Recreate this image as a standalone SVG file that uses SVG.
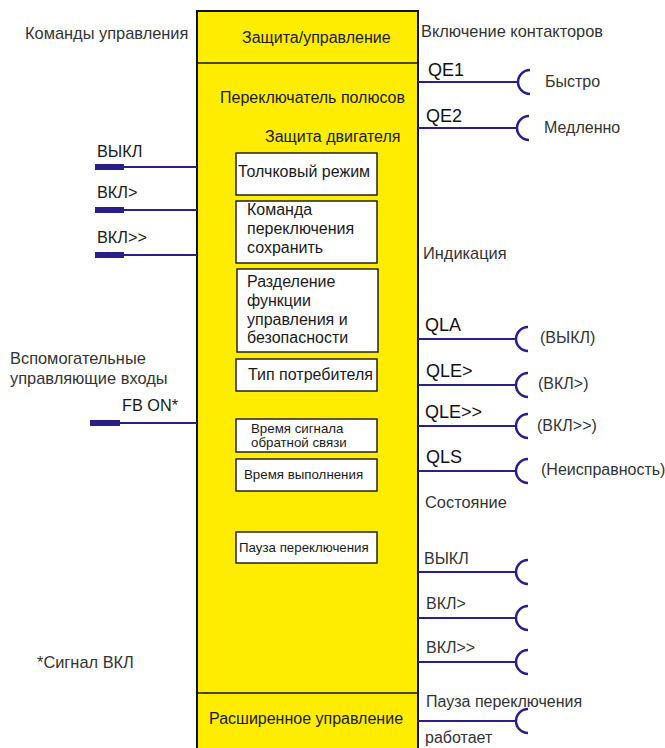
<svg xmlns="http://www.w3.org/2000/svg" width="665" height="748" viewBox="0 0 665 748">
  <style>
    text { font-family: "Liberation Sans", Arial, sans-serif; }
    .lbl { font-size: 16.4px; fill: #333333; }
    .par { font-size: 16px; fill: #333333; }
    .in { font-size: 16px; fill: #1a1a1a; }
    .pin { font-size: 16.3px; fill: #1a1a1a; }
    .sig { font-size: 18px; fill: #111111; }
    .sm { font-size: 13.3px; fill: #1a1a1a; }
    .box { fill: #ffffff; stroke: #222222; stroke-width: 1.5; }
    .wire { stroke: #2a1f8a; stroke-width: 2; fill: none; }
    .plug { stroke: #2a1f8a; stroke-width: 6; }
    .sock { stroke: #2a1f8a; stroke-width: 2.5; fill: none; }
  </style>
  <defs>
    <path id="socket" class="sock" d="M12,-12 A12,12 0 0 0 12,12"/>
  </defs>

  <rect width="665" height="748" fill="#ffffff"/>

  <!-- function block -->
  <g id="block">
    <rect x="197" y="11" width="221" height="745" fill="#ffed00" stroke="#111111" stroke-width="2"/>
    <line x1="197" y1="63" x2="418" y2="63" stroke="#111111" stroke-width="1.5"/>
    <line x1="197" y1="693" x2="418" y2="693" stroke="#111111" stroke-width="1.5"/>
    <text class="in" x="242" y="43">Защита/управление</text>
    <text class="in" x="220" y="103">Переключатель полюсов</text>
    <text class="in" x="265" y="142">Защита двигателя</text>
    <text class="in" x="209" y="724">Расширенное управление</text>
  </g>

  <g id="jog">
    <rect class="box" x="236" y="153" width="141" height="42"/>
    <text class="in" x="238" y="177">Толчковый режим</text>
  </g>
  <g id="save-cmd">
    <rect class="box" x="236" y="201" width="141" height="62"/>
    <text class="in" x="247" y="215">Команда</text>
    <text class="in" x="247" y="234">переключения</text>
    <text class="in" x="247" y="253">сохранить</text>
  </g>
  <g id="separation">
    <rect class="box" x="237" y="269" width="141" height="83"/>
    <text class="in" x="247" y="287">Разделение</text>
    <text class="in" x="247" y="306">функции</text>
    <text class="in" x="247" y="325">управления и</text>
    <text class="in" x="247" y="343">безопасности</text>
  </g>
  <g id="load-type">
    <rect class="box" x="236" y="359" width="141" height="32"/>
    <text class="in" x="248" y="380">Тип потребителя</text>
  </g>
  <g id="feedback-time">
    <rect class="box" x="236" y="419" width="141" height="33"/>
    <text class="sm" x="251" y="433">Время сигнала</text>
    <text class="sm" x="251" y="447">обратной связи</text>
  </g>
  <g id="run-time">
    <rect class="box" x="236" y="459" width="141" height="32"/>
    <text class="sm" x="244" y="479">Время выполнения</text>
  </g>
  <g id="change-pause">
    <rect class="box" x="236" y="532" width="141" height="31"/>
    <text class="sm" x="239" y="552">Пауза переключения</text>
  </g>

  <!-- left-side labels -->
  <g id="left-labels">
    <text class="lbl" x="25" y="39">Команды управления</text>
    <text class="lbl" x="10" y="364">Вспомогательные</text>
    <text class="lbl" x="10" y="384">управляющие входы</text>
    <text class="lbl" x="37" y="668">*Сигнал ВКЛ</text>
  </g>

  <!-- right-side labels -->
  <g id="right-labels">
    <text class="lbl" x="421" y="37">Включение контакторов</text>
    <text class="par" x="545" y="87">Быстро</text>
    <text class="par" x="544" y="133">Медленно</text>
    <text class="lbl" x="423" y="259">Индикация</text>
    <text class="par" x="540" y="343">(ВЫКЛ)</text>
    <text class="par" x="538" y="389">(ВКЛ&gt;)</text>
    <text class="par" x="537" y="431">(ВКЛ&gt;&gt;)</text>
    <text class="par" x="541" y="475">(Неисправность)</text>
    <text class="lbl" x="425" y="508">Состояние</text>
    <text class="par" x="426" y="707">Пауза переключения</text>
    <text class="par" x="425" y="743">работает</text>
  </g>

  <!-- connectors -->
  <g id="connectors">
    <!-- inputs -->
    <line class="wire" x1="124" y1="167" x2="197" y2="167"/>
    <line class="plug" x1="95" y1="167" x2="124" y2="167"/>
    <text class="pin" x="97" y="157">ВЫКЛ</text>

    <line class="wire" x1="124" y1="210" x2="197" y2="210"/>
    <line class="plug" x1="95" y1="210" x2="124" y2="210"/>
    <text class="pin" x="97" y="198">ВКЛ&gt;</text>

    <line class="wire" x1="124" y1="255" x2="197" y2="255"/>
    <line class="plug" x1="95" y1="255" x2="124" y2="255"/>
    <text class="pin" x="97" y="243">ВКЛ&gt;&gt;</text>

    <line class="wire" x1="120" y1="423" x2="197" y2="423"/>
    <line class="plug" x1="90" y1="423" x2="120" y2="423"/>
    <text class="pin" x="122" y="411">FB ON*</text>

    <!-- contactor outputs -->
    <line class="wire" x1="418" y1="82" x2="518" y2="82"/>
    <use href="#socket" x="518" y="82"/>
    <text class="sig" x="428" y="76">QE1</text>

    <line class="wire" x1="418" y1="128" x2="517" y2="128"/>
    <use href="#socket" x="517" y="128"/>
    <text class="sig" x="426" y="122">QE2</text>

    <!-- indication outputs -->
    <line class="wire" x1="418" y1="339" x2="516" y2="339"/>
    <use href="#socket" x="516" y="339"/>
    <text class="sig" x="425" y="331">QLA</text>

    <line class="wire" x1="418" y1="385" x2="516" y2="385"/>
    <use href="#socket" x="516" y="385"/>
    <text class="sig" x="426" y="377">QLE&gt;</text>

    <line class="wire" x1="418" y1="426" x2="516" y2="426"/>
    <use href="#socket" x="516" y="426"/>
    <text class="sig" x="425" y="418">QLE&gt;&gt;</text>

    <line class="wire" x1="418" y1="471" x2="516" y2="471"/>
    <use href="#socket" x="516" y="471"/>
    <text class="sig" x="426" y="463">QLS</text>

    <!-- status outputs -->
    <line class="wire" x1="418" y1="572" x2="516" y2="572"/>
    <use href="#socket" x="516" y="572"/>
    <text class="par" x="424" y="564">ВЫКЛ</text>

    <line class="wire" x1="418" y1="618" x2="516" y2="618"/>
    <use href="#socket" x="516" y="618"/>
    <text class="par" x="426" y="609">ВКЛ&gt;</text>

    <line class="wire" x1="418" y1="662" x2="516" y2="662"/>
    <use href="#socket" x="516" y="662"/>
    <text class="par" x="426" y="653">ВКЛ&gt;&gt;</text>

    <line class="wire" x1="417" y1="721" x2="516" y2="721"/>
    <use href="#socket" x="516" y="721"/>
  </g>
</svg>
